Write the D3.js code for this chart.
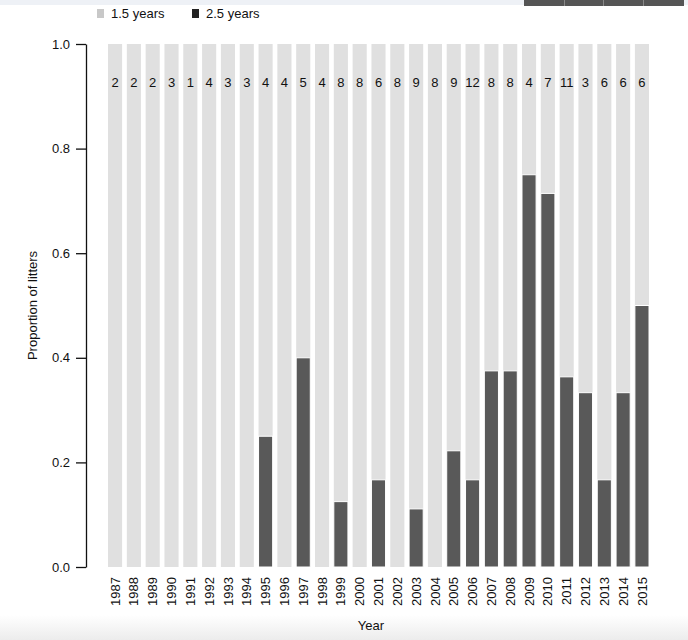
<!DOCTYPE html>
<html>
<head>
<meta charset="utf-8">
<script src="https://cdn.jsdelivr.net/npm/d3@7"></script>
<style>
  body { margin: 0; background: #fff; }
  svg { display: block; font-family: "Liberation Sans", Arial, sans-serif; }
</style>
</head>
<body>
<svg id="chart"></svg>
<script>
var years = ['1987','1988','1989','1990','1991','1992','1993','1994','1995','1996',
             '1997','1998','1999','2000','2001','2002','2003','2004','2005','2006',
             '2007','2008','2009','2010','2011','2012','2013','2014','2015'];
var litterCounts = [2, 2, 2, 3, 1, 4, 3, 3, 4, 4, 5, 4, 8, 8, 6, 8, 9, 8, 9, 12, 8, 8, 4, 7, 11, 3, 6, 6, 6];
var prop25 = [0, 0, 0, 0, 0, 0, 0, 0, 0.25, 0, 0.4, 0, 0.125, 0, 0.1667, 0, 0.1111, 0, 0.2222, 0.1667,
              0.375, 0.375, 0.75, 0.7143, 0.3636, 0.3333, 0.1667, 0.3333, 0.5];
var yTicks = [0, 0.2, 0.4, 0.6, 0.8, 1.0];
var seriesNames = ['1.5 years', '2.5 years'];

var width = 688, height = 640;
var svg = d3.select('#chart').attr('width', width).attr('height', height);

// page chrome: top strip, toolbar, bottom shadow
var defs = svg.append('defs');
var grad = defs.append('linearGradient').attr('id', 'shade').attr('x1', 0).attr('y1', 0).attr('x2', 0).attr('y2', 1);
grad.append('stop').attr('offset', '0%').attr('stop-color', '#fff');
grad.append('stop').attr('offset', '100%').attr('stop-color', '#ececec');
svg.append('rect').attr('x', 0).attr('y', 615).attr('width', width).attr('height', 25).attr('fill', 'url(#shade)');
svg.append('rect').attr('x', 0).attr('y', 0).attr('width', width).attr('height', 5).attr('fill', '#eef1f6');
svg.append('rect').attr('x', 524).attr('y', 0).attr('width', 160).attr('height', 6).attr('fill', '#555');
[564, 603, 643].forEach(function(bx){
  svg.append('rect').attr('x', bx).attr('y', 0).attr('width', 1).attr('height', 6).attr('fill', '#888');
});

var x = d3.scaleBand().domain(years).range([108, 649]).paddingInner(0.25).paddingOuter(0);
var y = d3.scaleLinear().domain([0, 1]).range([567, 44]);

var data = years.map(function(yr, i){
  return { year: yr, n: litterCounts[i], p: prop25[i] };
});

// light bars (1.5 years) fill whole column
svg.append('g').selectAll('rect')
  .data(data)
  .enter()
    .append('rect')
    .attr('x', function(d){ return x(d.year); })
    .attr('y', y(1))
    .attr('width', x.bandwidth())
    .attr('height', y(0) - y(1))
    .attr('fill', '#e0e0e0');

// dark bars (2.5 years)
svg.append('g').selectAll('rect')
  .data(data.filter(function(d){ return d.p > 0; }))
  .enter()
    .append('rect')
    .attr('x', function(d){ return x(d.year); })
    .attr('y', function(d){ return y(d.p); })
    .attr('width', x.bandwidth())
    .attr('height', function(d){ return y(0) - y(d.p); })
    .attr('fill', '#595959')
    .attr('stroke', '#fff')
    .attr('stroke-width', 1);

// counts
svg.append('g').selectAll('text')
  .data(data)
  .enter()
    .append('text')
    .attr('x', function(d){ return x(d.year) + x.bandwidth() / 2; })
    .attr('y', 87)
    .attr('text-anchor', 'middle')
    .attr('font-size', 13)
    .attr('fill', '#111')
    .text(function(d){ return d.n; });

// y axis
var yAxis = svg.append('g')
  .attr('transform', 'translate(86,0)')
  .call(d3.axisLeft(y).tickValues(yTicks).tickFormat(d3.format('.1f')).tickSizeInner(10).tickSizeOuter(0).tickPadding(6));
yAxis.select('.domain').attr('stroke', '#111').attr('stroke-width', 1.3);
yAxis.selectAll('.tick line').attr('stroke', '#111').attr('stroke-width', 1.3);
yAxis.selectAll('.tick text').attr('font-size', 13).attr('fill', '#111').attr('font-family', '"Liberation Sans", Arial, sans-serif');

// x labels, rotated
var xAxis = svg.append('g')
  .attr('transform', 'translate(0,567)')
  .call(d3.axisBottom(x).tickSize(0).tickPadding(0));
xAxis.select('.domain').remove();
xAxis.selectAll('.tick text')
  .attr('font-size', 13)
  .attr('fill', '#111')
  .attr('font-family', '"Liberation Sans", Arial, sans-serif')
  .attr('transform', 'rotate(-90)')
  .attr('text-anchor', 'end')
  .attr('x', -10)
  .attr('y', 0)
  .attr('dy', '0.35em');

// axis titles
svg.append('text')
  .attr('x', 371).attr('y', 630)
  .attr('text-anchor', 'middle')
  .attr('font-size', 13).attr('fill', '#111')
  .text('Year');
svg.append('text')
  .attr('transform', 'translate(37,305.5) rotate(-90)')
  .attr('text-anchor', 'middle')
  .attr('font-size', 13).attr('fill', '#111')
  .text('Proportion of litters');

// legend
var legend = svg.append('g').selectAll('g')
  .data(seriesNames)
  .enter()
    .append('g')
    .attr('transform', function(d, i){ return 'translate(' + (97 + i * 95) + ',0)'; });
legend.append('rect')
  .attr('x', 0).attr('y', 9).attr('width', 7).attr('height', 9)
  .attr('fill', function(d, i){ return i ? '#222' : '#c8c8c8'; });
legend.append('text')
  .attr('x', 14).attr('y', 18)
  .attr('font-size', 13).attr('fill', '#111')
  .text(function(d){ return d; });
</script>
</body>
</html>
